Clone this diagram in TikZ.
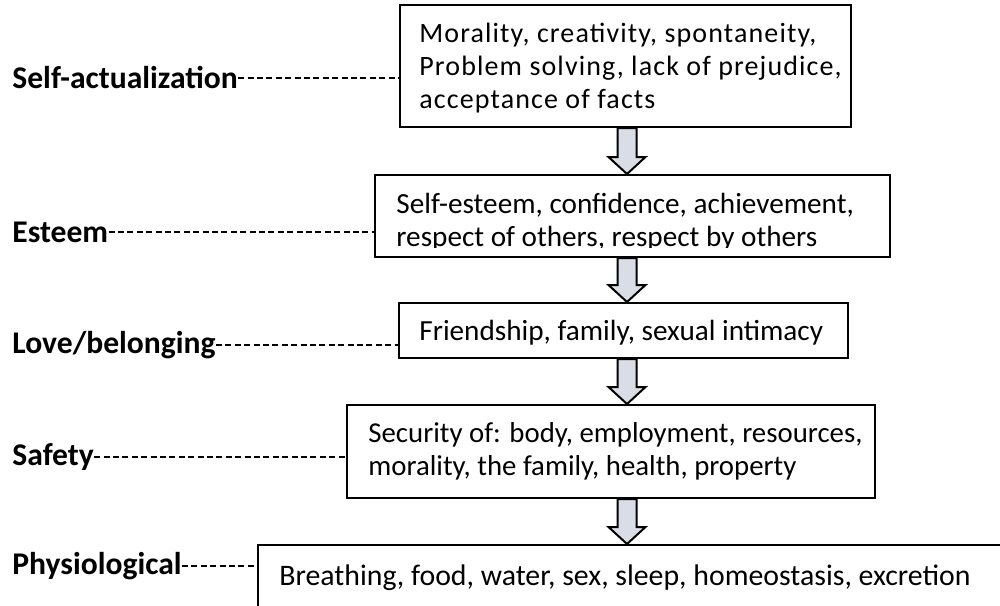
\documentclass[tikz,border=0pt]{standalone}
\usepackage{fontspec}
\setmainfont{Carlito}
\newfontfamily\spacedfont[LetterSpace=4]{Carlito}
\usetikzlibrary{calc}
\definecolor{arrowgray}{HTML}{D9DEE6}
\newcommand{\needfont}{\fontsize{14.6}{16.5}\selectfont}
\tikzset{
    need-box/.style = {draw, line width=1pt, fill=white, rectangle, inner sep=0pt},
    need-text/.style = {align=left, inner sep=0pt, font=\needfont},
    level-label/.style = {anchor=west, inner sep=0pt, font=\fontsize{15.8}{18}\selectfont\bfseries},
    level-dash/.style = {line width=0.7pt, dash pattern=on 3pt off 1.7pt},
    down-arrow/.style = {draw, line width=1pt, fill=arrowgray},
}

\begin{document}
\begin{tikzpicture}[x=0.5pt, y=-0.5pt]
\clip (0,0) rectangle (1000,605);
\coordinate (axis) at (627,0);

% the needs, top to bottom
\node[need-box, minimum width=225.5pt, minimum height=61pt] (b1) at (625.5,66) {};
\node[need-text, anchor=west, font=\fontsize{14}{16.5}\spacedfont] (t1) at ([xshift=10pt,yshift=-1pt]b1.west) {Morality, creativity, spontaneity,\\Problem solving, lack of prejudice,\\acceptance of facts};

\node[need-box, minimum width=257.5pt, minimum height=41pt] (b2) at (632.5,216) {};
\begin{scope}
    \clip (b2.north west) rectangle ([yshift=5.5pt]b2.south east);
    \node[need-text, anchor=north west] (t2) at ([xshift=11pt,yshift=-9.5pt]b2.north west) {Self-esteem, confidence, achievement,\\respect of others, respect by others};
\end{scope}

\node[need-box, minimum width=224.5pt, minimum height=27.5pt] (b3) at (623.5,330.5) {};
\node[need-text, anchor=west] (t3) at ([xshift=10.5pt,yshift=-1pt]b3.west) {Friendship, family, sexual intimacy};

\node[need-box, minimum width=264pt, minimum height=46.5pt] (b4) at (611,451.5) {};
\node[need-text, anchor=west, font=\fontsize{14.4}{16.5}\selectfont] (t4) at ([xshift=11pt]b4.west) {Security of: body, employment, resources,\\morality, the family, health, property};

\node[need-box, minimum width=376pt, minimum height=33pt] (b5) at (634,578) {};
\node[need-text, anchor=west, font=\fontsize{14.9}{16.5}\selectfont] (t5) at ([xshift=11pt]b5.west) {Breathing, food, water, sex, sleep, homeostasis, excretion};

% arrows between the boxes
\foreach \u/\v in {b1/b2, b2/b3, b3/b4, b4/b5}
    \draw[down-arrow] let \p1=(\u.south -| axis), \p2=(\v.north -| axis) in
        (\x1-4.75pt,\y1) -- (\x1-4.75pt,\y2+8.5pt) -- (\x1-9.25pt,\y2+8.5pt) -- (\p2)
        -- (\x1+9.25pt,\y2+8.5pt) -- (\x1+4.75pt,\y2+8.5pt) -- (\x1+4.75pt,\y1) -- cycle;

% level names
\node[level-label] (l1) at (12,78) {Self-actualization};
\node[level-label] (l2) at (12,232) {Esteem};
\node[level-label] (l3) at (12,345) {Love/belonging};
\node[level-label] (l4) at (12,457) {Safety};
\node[level-label] (l5) at (12,566) {Physiological};
\foreach \i in {1,...,5}
    \draw[level-dash] (l\i.east) -- (l\i.east -| b\i.west);
\end{tikzpicture}
\end{document}
